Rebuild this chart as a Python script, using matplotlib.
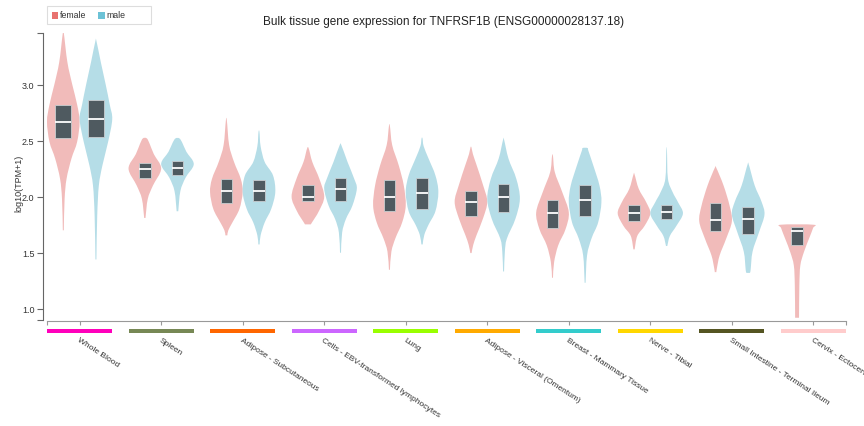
import numpy as np
import matplotlib
matplotlib.use("Agg")
import matplotlib.pyplot as plt
from matplotlib.path import Path
from matplotlib.patches import PathPatch, Rectangle

plt.rcParams['font.family'] = ['Liberation Sans', 'DejaVu Sans']

W, H = 864, 427

tissues = ['Whole Blood', 'Spleen', 'Adipose - Subcutaneous',
           'Cells - EBV-transformed lymphocytes', 'Lung',
           'Adipose - Visceral (Omentum)', 'Breast - Mammary Tissue',
           'Nerve - Tibial', 'Small Intestine - Terminal Ileum',
           'Cervix - Ectocervix']
tissue_colors = ['#ff00bb', '#778855', '#ff6600', '#cc66ff', '#99ff00',
                 '#ffaa00', '#33cccc', '#ffd700', '#555522', '#ffcccc']

# квартили (log10 TPM+1)
female_q1 = [2.52, 2.17, 1.94, 1.96, 1.87, 1.83, 1.72, 1.78, 1.69, 1.57]
female_med = [2.67, 2.25, 2.05, 2.00, 2.00, 1.95, 1.85, 1.85, 1.79, 1.69]
female_q3 = [2.82, 2.30, 2.16, 2.10, 2.15, 2.05, 1.97, 1.93, 1.94, 1.73]
male_q1 = [2.53, 2.19, 1.96, 1.96, 1.89, 1.86, 1.83, 1.80, 1.67, None]
male_med = [2.69, 2.26, 2.05, 2.07, 2.03, 2.00, 1.97, 1.86, 1.80, None]
male_q3 = [2.86, 2.32, 2.15, 2.17, 2.17, 2.11, 2.10, 1.93, 1.91, None]

# контур скрипки: (уровень, относительная полуширина)
female_shapes = [
    [(1.70, 0.03), (1.98, 0.08), (2.16, 0.2), (2.34, 0.5), (2.49, 0.85), (2.67, 1.0), (2.82, 0.85), (3.0, 0.55), (3.2, 0.25), (3.46, 0.03)],
    [(1.81, 0.04), (1.98, 0.18), (2.1, 0.5), (2.25, 1.0), (2.38, 0.55), (2.47, 0.3), (2.52, 0.12)],
    [(1.655, 0.06), (1.70, 0.12), (1.77, 0.37), (1.89, 0.8), (2.04, 1.0), (2.16, 0.88), (2.31, 0.47), (2.46, 0.17), (2.68, 0.03)],
    [(1.753, 0.18), (1.77, 0.25), (1.87, 0.67), (2.0, 1.0), (2.16, 0.7), (2.31, 0.27), (2.43, 0.05)],
    [(1.348, 0.03), (1.51, 0.12), (1.63, 0.37), (1.77, 0.78), (1.92, 1.0), (2.1, 0.88), (2.28, 0.57), (2.46, 0.17), (2.63, 0.03)],
    [(1.497, 0.04), (1.57, 0.14), (1.66, 0.35), (1.81, 0.75), (1.955, 1.0), (2.1, 0.75), (2.28, 0.35), (2.38, 0.12), (2.44, 0.03)],
    [(1.277, 0.03), (1.417, 0.1), (1.565, 0.35), (1.71, 0.8), (1.86, 1.0), (2.04, 0.6), (2.22, 0.14), (2.363, 0.03)],
    [(1.53, 0.04), (1.65, 0.2), (1.74, 0.65), (1.85, 1.0), (1.95, 0.75), (2.07, 0.29), (2.2, 0.03)],
    [(1.327, 0.05), (1.36, 0.08), (1.476, 0.25), (1.625, 0.65), (1.78, 1.0), (1.92, 0.86), (2.10, 0.49), (2.259, 0.04)],
    [(0.92, 0.12), (1.21, 0.14), (1.387, 0.2), (1.506, 0.42), (1.625, 0.73), (1.72, 0.98), (1.75, 1.0)],
]
male_shapes = [
    [(1.44, 0.03), (1.83, 0.08), (2.1, 0.18), (2.28, 0.4), (2.49, 0.75), (2.69, 1.0), (2.82, 0.85), (3.0, 0.6), (3.2, 0.3), (3.39, 0.03)],
    [(1.87, 0.05), (2.05, 0.18), (2.17, 0.5), (2.29, 1.0), (2.4, 0.55), (2.48, 0.3), (2.52, 0.12)],
    [(1.574, 0.04), (1.655, 0.1), (1.77, 0.35), (1.89, 0.75), (2.04, 1.0), (2.19, 0.86), (2.31, 0.35), (2.45, 0.1), (2.577, 0.03)],
    [(1.5, 0.03), (1.68, 0.1), (1.80, 0.33), (1.92, 0.73), (2.07, 1.0), (2.16, 0.84), (2.31, 0.43), (2.46, 0.05)],
    [(1.574, 0.04), (1.66, 0.14), (1.75, 0.4), (1.87, 0.82), (2.04, 1.0), (2.19, 0.82), (2.34, 0.4), (2.45, 0.1), (2.52, 0.03)],
    [(1.333, 0.03), (1.51, 0.08), (1.625, 0.2), (1.80, 0.72), (1.98, 1.0), (2.16, 0.78), (2.34, 0.3), (2.509, 0.03)],
    [(1.232, 0.03), (1.476, 0.12), (1.63, 0.4), (1.77, 0.8), (1.95, 1.0), (2.1, 0.88), (2.28, 0.5), (2.41, 0.2), (2.434, 0.15)],
    [(1.56, 0.04), (1.65, 0.2), (1.74, 0.6), (1.85, 1.0), (1.95, 0.7), (2.04, 0.37), (2.16, 0.08), (2.414, 0.02)],
    [(1.32, 0.1), (1.345, 0.15), (1.51, 0.27), (1.685, 0.67), (1.84, 1.0), (1.955, 0.82), (2.10, 0.4), (2.286, 0.04)],
    None,
]

FEMALE_FILL = '#f1bbba'
MALE_FILL = '#b5dde7'
FEMALE_KEY = '#e8726f'
MALE_KEY = '#6cc2d6'
BOX_COLOR = '#4f5a60'
HALF = 0.2        # макс. полуширина скрипки
OFFSET = 0.2      # сдвиг female/male от центра


def fx(px):
    return px / W


def fy(py):
    return 1 - py / H


def violin_patch(center, shape, color):
    # контур: правая сторона снизу вверх, левая сверху вниз, сглаживание кривыми Безье
    right = [(center + w * HALF, y) for y, w in shape]
    left = [(center - w * HALF, y) for y, w in reversed(shape)]
    pts = np.array(right + left)
    n = len(pts)
    verts = [pts[0]]
    codes = [Path.MOVETO]
    for i in range(n - 1):
        p0 = pts[max(i - 1, 0)]
        p1 = pts[i]
        p2 = pts[i + 1]
        p3 = pts[min(i + 2, n - 1)]
        verts += [p1 + (p2 - p0) / 6, p2 - (p3 - p1) / 6, p2]
        codes += [Path.CURVE4] * 3
    verts.append(pts[0])
    codes.append(Path.CLOSEPOLY)
    return PathPatch(Path(verts, codes), facecolor=color, edgecolor='none', zorder=2)


def draw_box(ax, center, q1, med, q3, half_w):
    ax.add_patch(Rectangle((center - half_w, q1), 2 * half_w, q3 - q1,
                           facecolor=BOX_COLOR, edgecolor='#c8cdd0', lw=0.6, zorder=3))
    ax.plot([center - half_w, center + half_w], [med, med], color='white', lw=1.3,
            solid_capstyle='butt', zorder=4)


fig = plt.figure(figsize=(W / 100, H / 100), dpi=100)
ax = fig.add_axes([fx(47), fy(321), fx(846) - fx(47), fy(34) - fy(321)])
ax.set_xlim(-0.4, 9.4)
ax.set_ylim(0.90, 3.46)

for i in range(len(tissues)):
    box_half = 0.1 if i == 0 else 0.07
    ax.add_patch(violin_patch(i - OFFSET, female_shapes[i], FEMALE_FILL))
    draw_box(ax, i - OFFSET, female_q1[i], female_med[i], female_q3[i], box_half)
    if male_shapes[i] is not None:
        ax.add_patch(violin_patch(i + OFFSET, male_shapes[i], MALE_FILL))
        draw_box(ax, i + OFFSET, male_q1[i], male_med[i], male_q3[i], box_half)

for s in ['top', 'right']:
    ax.spines[s].set_visible(False)
ax.spines['left'].set_position(('outward', 3))
ax.spines['left'].set_color('#666666')
ax.spines['bottom'].set_position(('outward', 1))
ax.spines['bottom'].set_color('#999999')

ax.set_yticks([1.0, 1.5, 2.0, 2.5, 3.0])
ax.set_yticklabels(['1.0', '1.5', '2.0', '2.5', '3.0'])
ax.set_yticks([0.90, 3.46], minor=True)
ax.tick_params(axis='y', which='both', length=4, width=0.8, color='#666666',
               labelsize=6.5, labelcolor='#333333', pad=2)
ax.set_xticks(range(len(tissues)))
ax.set_xticklabels([])
ax.set_xticks([-0.4, 9.4], minor=True)
ax.tick_params(axis='x', which='both', length=3, width=0.8, color='#999999')
ax.set_ylabel('log10(TPM+1)', fontsize=6.5, color='#333333', labelpad=2)
ax.yaxis.set_label_coords(-0.03, 0.48)

# цветные полосы тканей и подписи
strip = fig.add_axes([fx(47), fy(334), fx(846) - fx(47), fy(330) - fy(334)])
strip.set_xlim(-0.4, 9.4)
strip.set_ylim(0, 1)
strip.bar(range(len(tissues)), 1, width=0.8, color=tissue_colors, align='center')
strip.axis('off')
for i, name in enumerate(tissues):
    strip.text(i, -0.8, name, rotation=-33, rotation_mode='anchor', ha='left', va='top',
               fontsize=6.0, color='#333333', clip_on=False)

fig.text(0.513, fy(22), 'Bulk tissue gene expression for TNFRSF1B (ENSG00000028137.18)',
         ha='center', va='center', fontsize=8.5, color='#222222')

# легенда
fig.add_artist(Rectangle((fx(47), fy(25)), fx(151) - fx(47), fy(7) - fy(25),
                         transform=fig.transFigure, facecolor='white', edgecolor='#dddddd', lw=0.8))
for key_x, color, label in [(51.5, FEMALE_KEY, 'female'), (97.5, MALE_KEY, 'male')]:
    fig.add_artist(Rectangle((fx(key_x), fy(19.5)), fx(7), fy(12.5) - fy(19.5),
                             transform=fig.transFigure, facecolor=color, edgecolor='none'))
    fig.text(fx(key_x + 8.5), fy(16), label, ha='left', va='center', fontsize=6.3, color='#333333')

fig.savefig('out.png', dpi=100)
